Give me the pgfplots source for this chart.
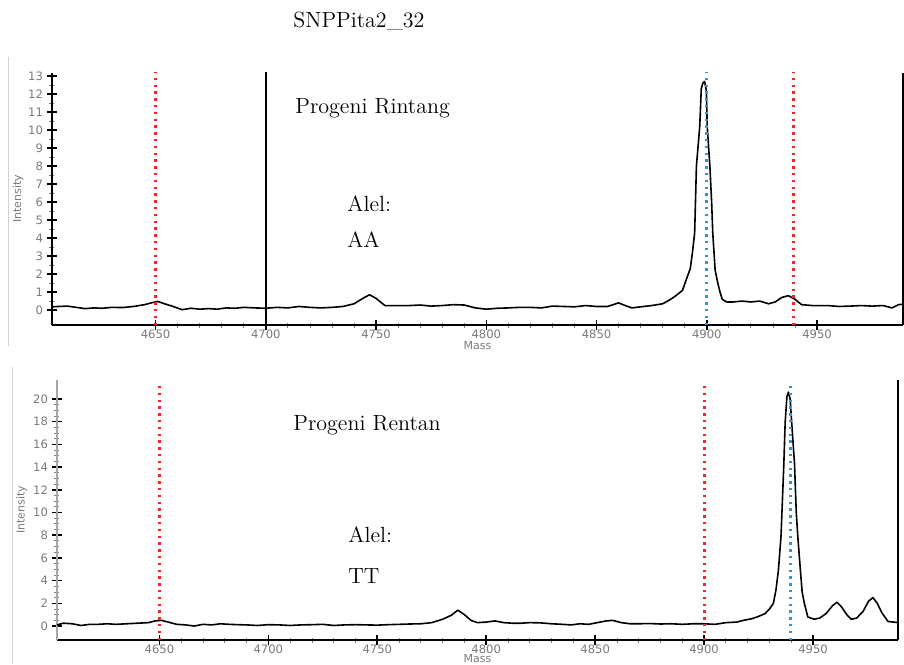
\documentclass[border=0pt]{standalone}
\usepackage{fontspec}
\usepackage{pgfplots}
\pgfplotsset{compat=1.18}
\newfontfamily\tickfont{DejaVu Sans}
\definecolor{markred}{HTML}{F0282D}
\definecolor{markblue}{HTML}{2A96E0}
\definecolor{ticktext}{HTML}{7A7A7A}

\pgfplotsset{
  spectrum/.style={
    scale only axis,
    axis lines=left,
    axis line style={-, black, line width=0.9pt},
    xmin=4603, xmax=4989,
    xtick={4650,4700,...,4950},
    minor x tick num=4,
    tick align=center,
    major tick length=5pt,
    minor tick length=2.5pt,
    every major tick/.append style={black, line width=0.8pt},
    every minor tick/.append style={gray, line width=0.4pt},
    tick label style={font=\tickfont\fontsize{5.8}{6}\selectfont, text=ticktext,
      /pgf/number format/assume math mode=true},
    xticklabel style={/pgf/number format/1000 sep={}, yshift=3.5pt},
    yticklabel style={xshift=1.5pt},
    xlabel={Mass}, ylabel={Intensity},
    label style={font=\tickfont\fontsize{5.5}{6}\selectfont, text=ticktext},
    clip=false,
  },
  trace/.style={black, line width=0.8pt, mark=none, line join=round},
  redmark/.style={markred, line width=1.4pt, dash pattern=on 1.2pt off 2.2pt, mark=none},
  bluemark/.style={markblue, line width=1.4pt, dash pattern=on 1.2pt off 2.2pt, mark=none},
  blackline/.style={black, line width=1pt, mark=none},
}

\begin{document}
\begin{tikzpicture}
\useasboundingbox (0,0) rectangle (452pt,-332pt);

% screenshot borders
\draw[gray!35, line width=0.5pt] (4pt,-28.5pt) -- (4pt,-173pt);
\draw[gray!35, line width=0.5pt] (6pt,-183.5pt) -- (6pt,-332pt);

% top: resistant progeny
\begin{axis}[spectrum,
  at={(26pt,-162.5pt)}, anchor=south west,
  width=425.5pt, height=126pt,
  ymin=-0.83, ymax=13.17,
  ytick={0,1,...,13}, minor y tick num=1,
  xlabel style={at={(axis description cs:0.5,-0.083)}, anchor=center},
  ylabel style={at={(axis description cs:-0.040,0.5)}, anchor=center},
]
\addplot[blackline] coordinates {(4700,-0.83) (4700,13.25)};
\addplot[blackline] coordinates {(4989,-0.83) (4989,13.17)};
\addplot[trace] coordinates {
(4603,0.18) (4606,0.2) (4610,0.22) (4614,0.15) (4618,0.08) (4622,0.12)
(4626,0.1) (4630,0.15) (4635,0.14) (4640,0.2) (4645,0.3) (4648,0.4)
(4651,0.48) (4654,0.35) (4658,0.2) (4662,0.02) (4666,0.1) (4670,0.05)
(4674,0.08) (4678,0.05) (4682,0.12) (4686,0.1) (4690,0.15) (4695,0.12)
(4700,0.1) (4705,0.15) (4710,0.12) (4715,0.2) (4720,0.15) (4725,0.12)
(4730,0.15) (4735,0.2) (4740,0.35) (4744,0.65) (4747,0.85) (4750,0.65)
(4754,0.25) (4758,0.25) (4765,0.25) (4770,0.28) (4775,0.22) (4780,0.25)
(4785,0.3) (4790,0.28) (4795,0.12) (4800,0.05) (4805,0.1) (4810,0.12)
(4815,0.15) (4820,0.15) (4825,0.12) (4830,0.22) (4835,0.2) (4840,0.18)
(4845,0.25) (4850,0.2) (4855,0.2) (4860,0.4) (4863,0.25) (4866,0.12)
(4870,0.18) (4875,0.25) (4880,0.35) (4883,0.55) (4886,0.8) (4889,1.1)
(4891,1.8) (4892.5,2.3) (4893.5,3.2) (4894.5,4.3) (4895.3,8.0) (4896.8,10.2)
(4897.5,12.3) (4898.2,12.6) (4899,12.7) (4899.8,12.2) (4900.2,10.2) (4901.4,8.0)
(4902.2,6.0) (4902.7,4.3) (4903.8,2.2) (4905,1.5) (4906,1.0) (4907,0.6)
(4909,0.45) (4912,0.45) (4916,0.5) (4920,0.45) (4924,0.5) (4928,0.35)
(4931,0.45) (4934,0.7) (4937,0.8) (4940,0.6) (4943,0.3) (4948,0.25)
(4955,0.25) (4960,0.2) (4965,0.22) (4970,0.25) (4975,0.22) (4980,0.25)
(4984,0.12) (4987,0.3) (4989,0.33)
};
\addplot[redmark] coordinates {(4650,-0.83) (4650,13.2)};
\addplot[bluemark] coordinates {(4900,-0.83) (4900,13.2)};
\addplot[redmark] coordinates {(4939.5,-0.83) (4939.5,13.2)};
\end{axis}

% bottom: susceptible progeny
\begin{axis}[spectrum,
  at={(28.5pt,-320pt)}, anchor=south west,
  width=420.5pt, height=130pt,
  ymin=-1.23, ymax=21.67,
  ytick={0,2,...,20}, minor y tick num=3,
  y axis line style={gray!70, line width=0.6pt},
  xlabel style={at={(axis description cs:0.5,-0.07)}, anchor=center},
  ylabel style={at={(axis description cs:-0.042,0.5)}, anchor=center},
]
\addplot[blackline] coordinates {(4989,-1.23) (4989,21.67)};
\addplot[trace] coordinates {
(4603,0.1) (4606,0.25) (4610,0.2) (4614,0.05) (4618,0.15) (4622,0.15)
(4626,0.2) (4630,0.15) (4635,0.2) (4640,0.25) (4645,0.3) (4648,0.45)
(4651,0.5) (4654,0.35) (4658,0.15) (4662,0.1) (4666,0.0) (4670,0.15)
(4674,0.1) (4678,0.2) (4682,0.15) (4686,0.12) (4690,0.1) (4695,0.05)
(4700,0.12) (4705,0.1) (4710,0.05) (4715,0.1) (4720,0.12) (4725,0.15)
(4730,0.05) (4735,0.1) (4740,0.12) (4745,0.1) (4750,0.08) (4755,0.12)
(4760,0.15) (4765,0.18) (4770,0.2) (4775,0.3) (4780,0.6) (4784,0.95)
(4787,1.4) (4790,1.0) (4793,0.5) (4796,0.3) (4800,0.35) (4804,0.45)
(4808,0.3) (4812,0.25) (4816,0.25) (4820,0.3) (4825,0.28) (4830,0.2)
(4835,0.15) (4839,0.1) (4843,0.2) (4847,0.15) (4851,0.3) (4855,0.45)
(4858,0.5) (4862,0.3) (4866,0.2) (4870,0.2) (4875,0.22) (4880,0.18)
(4885,0.2) (4890,0.15) (4895,0.2) (4900,0.2) (4905,0.15) (4910,0.3)
(4915,0.35) (4918,0.5) (4922,0.65) (4925,0.85) (4928,1.1) (4930,1.5)
(4931.8,2.0) (4933,3.2) (4934.1,4.9) (4935.3,7.9) (4936.6,14.3) (4937.2,17.9)
(4938,20.2) (4938.7,20.6) (4939.5,20.0) (4940.2,17.9) (4941.5,14.3) (4942.3,10)
(4943,7.9) (4944.2,4.9) (4945,3.0) (4946,2.0) (4947.6,0.8) (4950.5,0.6)
(4953,0.7) (4956,1.1) (4959,1.8) (4961,2.1) (4963,1.7) (4965.5,1.0)
(4967.5,0.6) (4970,0.7) (4973,1.3) (4975.5,2.2) (4977.5,2.5) (4979.5,2.0)
(4981.5,1.2) (4984.4,0.4) (4987,0.35) (4989,0.3)
};
\addplot[redmark] coordinates {(4650,-1.23) (4650,21.5)};
\addplot[redmark] coordinates {(4900,-1.23) (4900,21.5)};
\addplot[bluemark] coordinates {(4939.5,-1.23) (4939.5,21.5)};
\end{axis}

% annotations
\begin{scope}[every node/.style={inner sep=0pt, anchor=base west, font=\fontsize{11}{13}\selectfont}]
\node at (146.5pt,-13.5pt) {SNPPita2\_32};
\node at (147.5pt,-56.5pt) {Progeni Rintang};
\node at (173.5pt,-105.5pt) {Alel:};
\node at (173.5pt,-123.5pt) {AA};
\node at (146.5pt,-215pt) {Progeni Rentan};
\node at (174pt,-271pt) {Alel:};
\node at (174pt,-291.5pt) {TT};
\end{scope}
\end{tikzpicture}
\end{document}
